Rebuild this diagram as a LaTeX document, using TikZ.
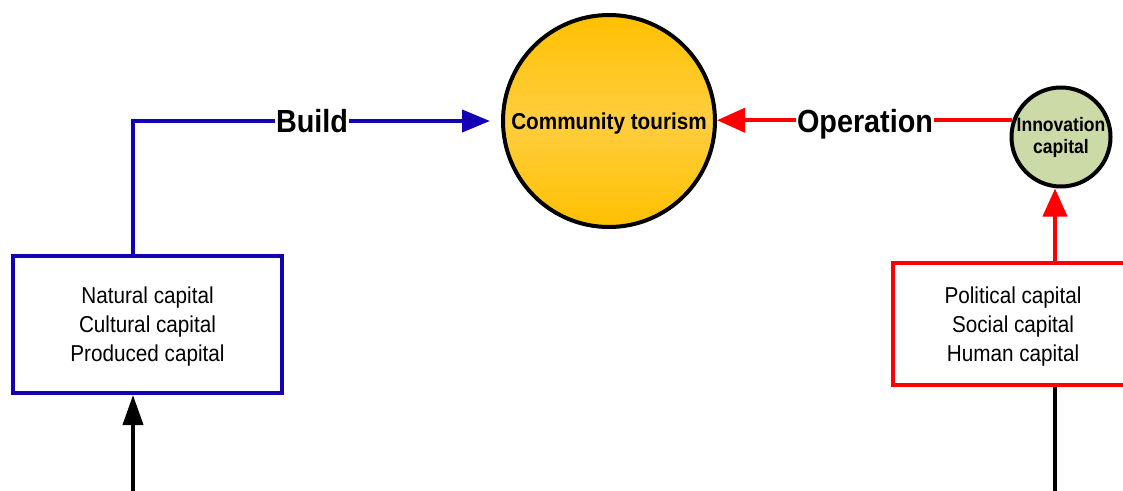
\documentclass[tikz,border=0pt]{standalone}
\usepackage{fontspec}
\setmainfont{Liberation Sans}[FakeStretch=0.9]
\usetikzlibrary{arrows.meta}
\definecolor{buildblue}{RGB}{20,0,180}
\definecolor{opred}{RGB}{255,0,0}
\definecolor{sunA}{RGB}{255,192,0}
\definecolor{sunB}{RGB}{255,206,64}
\definecolor{sage}{RGB}{204,218,168}
% centred stack of lines, nudged down a little inside its box (size kept)
\newcommand{\capstack}[1]{\raisebox{-2.5pt}[\height][\depth]{\begin{tabular}{@{}c@{}}#1\end{tabular}}}
\tikzset{
  capbox/.style={draw, line width=4pt, inner sep=0pt,
    font=\fontsize{23}{29}\selectfont},
  hub/.style={circle, draw=black, line width=4pt, inner sep=0pt, align=center},
  flowlabel/.style={fill=white, inner xsep=1pt, inner ysep=2pt, text height=23pt, text depth=0pt,
    font=\bfseries\fontsize{32}{36}\selectfont},
  bluelink/.style={draw=buildblue, line width=4pt, -{Triangle[length=28pt,width=22pt]}},
  redlink/.style={draw=opred, line width=4pt, -{Triangle[length=28pt,width=24pt]}},
  blacklink/.style={draw=black, line width=4pt},
}
\begin{document}
\begin{tikzpicture}[x=1pt,y=-1pt]
  \useasboundingbox (0,0) rectangle (1123,490);
  \clip (0,0) rectangle (1123,490);

  % central goal and the innovation hub
  \node[hub, minimum size=212pt, top color=sunA, bottom color=sunA, middle color=sunB,
        text height=16.5pt, text depth=0pt,
        font=\bfseries\fontsize{23}{26}\selectfont] (ct) at (609,121) {Community tourism};
  \node[hub, minimum size=99pt, fill=sage,
        font=\bfseries\fontsize{19.5}{22}\selectfont] (inn) at (1061,137) {Innovation\\capital};

  % groups of capitals
  \node[capbox, draw=buildblue, minimum width=269pt, minimum height=137pt] (lbox) at (147.5,324.5)
    {\capstack{Natural capital\\Cultural capital\\Produced capital}};
  \node[capbox, draw=opred, minimum width=240pt, minimum height=122pt] (rbox) at (1013,324)
    {\capstack{Political capital\\Social capital\\Human capital}};

  % Build path
  \coordinate (bstart) at (133,0 |- lbox.north);
  \draw[bluelink, shorten >=11pt] (bstart) |- (ct.west);
  \node[flowlabel] (build) at (312,121) {Build};

  % Operation path
  \draw[redlink] (inn.161) -- (inn.161 -| ct.east);
  \node[flowlabel] (oper) at (865,121) {Operation};

  % red box feeds the innovation hub
  \coordinate (rtop) at (1055,0 |- rbox.north);
  \draw[redlink] (rtop) -- (1055,0 |- inn.south);

  % incoming black lines from below
  \coordinate (lin) at (133,492);
  \draw[blacklink, -{Triangle[length=30pt,width=20pt]}] (lin) -- (133,0 |- lbox.south);
  \coordinate (rout) at (1055,492);
  \draw[blacklink] (rbox.south -| rout) -- (rout);
\end{tikzpicture}
\end{document}
